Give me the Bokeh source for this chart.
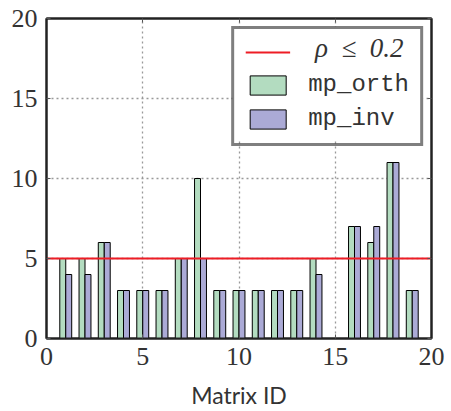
from bokeh.plotting import figure
from bokeh.models import Range1d, LinearAxis, FixedTicker, Legend, LegendItem, Label, BoxAnnotation
from bokeh.embed import file_html
from bokeh.resources import INLINE

ids = [1, 2, 3, 4, 5, 6, 7, 8, 9, 10, 11, 12, 13, 14, 16, 17, 18, 19]
mp_orth = [5, 5, 6, 3, 3, 3, 5, 10, 3, 3, 3, 3, 3, 5, 7, 6, 11, 3]
mp_inv = [4, 4, 6, 3, 3, 3, 5, 5, 3, 3, 3, 3, 3, 4, 7, 7, 11, 3]
threshold = 5
x_lim = [0, 20]
y_lim = [0, 20]
ticks = [0, 5, 10, 15, 20]

bar_w = 0.31
green = "#b3dcc0"
purple = "#abaad6"
serif = "'Liberation Serif', serif"

p = figure(width=451, height=411, output_backend="svg", toolbar_location=None,
           x_range=Range1d(*x_lim), y_range=Range1d(*y_lim),
           min_border_left=46, min_border_right=20, min_border_top=18, min_border_bottom=72)

p.background_fill_color = "white"
p.outline_line_color = "#222222"
p.outline_line_width = 2

xo = [i - bar_w / 2 for i in ids]
xi = [i + bar_w / 2 for i in ids]
r_orth = p.vbar(x=xo, top=mp_orth, width=bar_w, bottom=0, fill_color=green,
                line_color="black", line_width=1)
r_inv = p.vbar(x=xi, top=mp_inv, width=bar_w, bottom=0, fill_color=purple,
               line_color="black", line_width=1)
r_line = p.line(x=x_lim, y=[threshold, threshold], line_color="#ee1c25", line_width=2)

p.xaxis.ticker = FixedTicker(ticks=ticks)
p.yaxis.ticker = FixedTicker(ticks=ticks)
for axs in [p.xaxis, p.yaxis]:
    axs.major_tick_in = 4
    axs.major_tick_out = 0
    axs.minor_tick_line_color = None
    axs.axis_line_color = "#222222"
    axs.axis_line_width = 2
    axs.major_tick_line_color = "#555555"
    axs.major_label_text_font = serif
    axs.major_label_text_font_size = "26px"
    axs.major_label_text_color = "#333333"

p.xaxis.major_label_standoff = 9
p.yaxis.major_label_standoff = 9
p.xaxis.axis_label = "Matrix ID"
p.xaxis.axis_label_text_font = "Lato"
p.xaxis.axis_label_text_font_style = "normal"
p.xaxis.axis_label_text_font_size = "23px"
p.xaxis.axis_label_text_color = "#333333"
p.xaxis.axis_label_standoff = 13

for loc in ["above", "right"]:
    a = LinearAxis(ticker=FixedTicker(ticks=ticks),
                   major_label_overrides={t: "" for t in ticks},
                   major_tick_in=4, major_tick_out=0, minor_tick_line_color=None,
                   axis_line_color="#222222", axis_line_width=2,
                   major_tick_line_color="#555555", major_label_standoff=0)
    p.add_layout(a, loc)

p.grid.ticker = FixedTicker(ticks=ticks)
p.grid.grid_line_color = "#999999"
p.grid.grid_line_dash = "2 3"
p.grid.grid_line_width = 1.3

# white backing for the legend box
p.add_layout(BoxAnnotation(left=9.65, right=19.6, bottom=12.4, top=19.5,
                           fill_color="white", fill_alpha=1, line_color=None))

p.add_layout(Label(x=13.95, y=18.13, text="\u03c1\u2002\u2264\u20020.2", text_font=serif,
                   text_font_size="27px", text_color="#333333", text_baseline="middle",
                   text_font_style="italic"))

legend = Legend(items=[
    LegendItem(label=" ", renderers=[r_line]),
    LegendItem(label="mp_orth", renderers=[r_orth]),
    LegendItem(label="mp_inv", renderers=[r_inv]),
], location="top_right")
legend.label_text_font = "'Liberation Mono'"
legend.label_text_font_size = "24px"
legend.label_text_color = "#333333"
legend.border_line_color = "black"
legend.border_line_width = 3
legend.background_fill_alpha = 0
legend.glyph_width = 45
legend.glyph_height = 24
legend.label_height = 24
legend.spacing = 7
legend.padding = 11
legend.margin = 8
legend.label_standoff = 18
p.add_layout(legend)

open("out.html", "w").write(file_html(p, INLINE))
